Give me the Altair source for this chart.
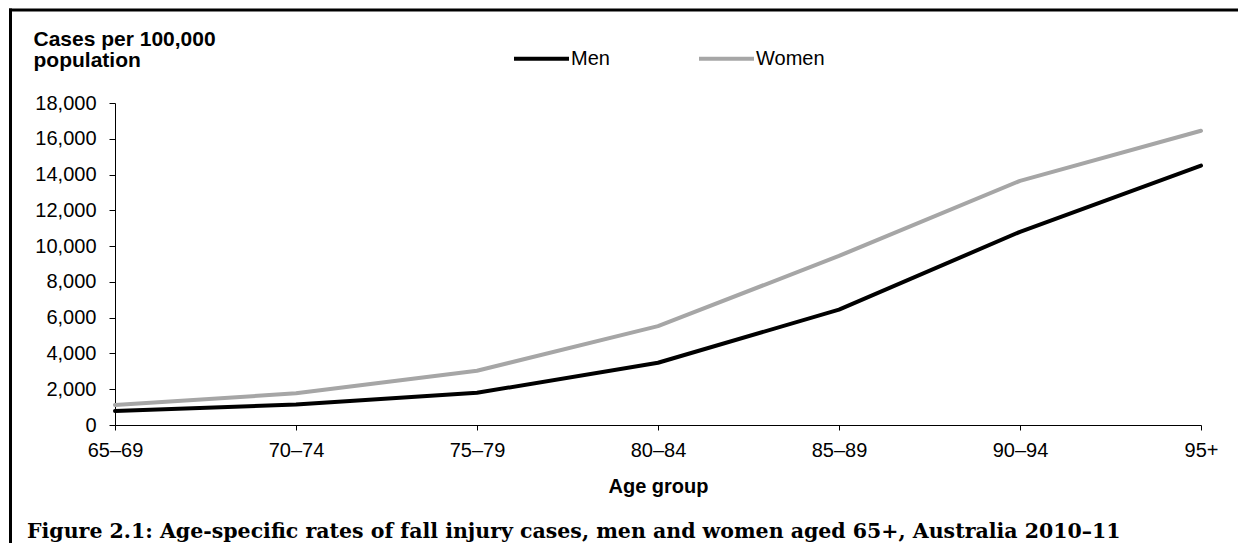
import altair as alt
import pandas as pd

age_groups = ["65–69", "70–74", "75–79", "80–84", "85–89", "90–94", "95+"]
men = [780, 1150, 1800, 3480, 6450, 10800, 14500]
women = [1120, 1770, 3030, 5530, 9450, 13650, 16450]
series = ["Men", "Women"]
y_ticks = [0, 2000, 4000, 6000, 8000, 10000, 12000, 14000, 16000, 18000]
caption = "Figure 2.1: Age-specific rates of fall injury cases, men and women aged 65+, Australia 2010–11"

rows = []
for a, m, w in zip(age_groups, men, women):
    rows.append({"age": a, "sex": "Men", "rate": m})
    rows.append({"age": a, "sex": "Women", "rate": w})
df = pd.DataFrame(rows)

W, H = 1086, 322
PAD_L, PAD_T = 107, 95

lines = alt.Chart(df).mark_line(strokeWidth=4, strokeCap="round", strokeJoin="round").encode(
    x=alt.X("age:O", sort=age_groups,
            scale=alt.Scale(type="point", padding=0),
            axis=alt.Axis(title="Age group", labelAngle=0, tickSize=5, labelPadding=10,
                          titleY=67, titleBaseline="alphabetic", titleFontSize=20,
                          titleFontWeight="bold", grid=False)),
    y=alt.Y("rate:Q", scale=alt.Scale(domain=[0, 18000], nice=False),
            axis=alt.Axis(values=y_ticks, format=",.0f", tickSize=6, labelPadding=13,
                          grid=False,
                          title=["Cases per 100,000", "population"],
                          titleAngle=0, titleAlign="left", titleBaseline="alphabetic",
                          titleX=-82, titleY=-58, titleFontSize=21, titleFontWeight="bold",
                          titleLineHeight=21)),
    color=alt.Color("sex:N", scale=alt.Scale(domain=series, range=["#000000", "#A6A6A6"]),
                    legend=alt.Legend(title=None, orient="none", legendX=397, legendY=-74,
                                      direction="horizontal", symbolType="stroke",
                                      symbolSize=3025, symbolStrokeWidth=4,
                                      labelFontSize=20, labelFont="Liberation Sans",
                                      labelColor="black", labelOffset=0,
                                      columnPadding=81, padding=0)),
)

frame = alt.Data(values=[{}])
left_border = alt.Chart(frame).mark_rule(color="black", strokeWidth=3).encode(
    x=alt.value(-104.5), y=alt.value(-94.5), y2=alt.value(H + 118)
)
top_border = alt.Chart(frame).mark_rule(color="black", strokeWidth=3).encode(
    x=alt.value(-106), x2=alt.value(W + 40), y=alt.value(-93)
)
caption_text = alt.Chart(alt.Data(values=[{"t": caption}])).mark_text(
    align="left", baseline="alphabetic", font="DejaVu Serif", fontSize=20.5,
    fontWeight="bold", color="black"
).encode(x=alt.value(-88), y=alt.value(435), text="t:N")

chart = alt.layer(lines, left_border, top_border, caption_text).properties(
    width=W, height=H,
    autosize=alt.AutoSizeParams(type="none"),
    padding={"left": PAD_L, "top": PAD_T, "right": 37, "bottom": 118},
    background="white",
).configure_view(stroke=None).configure_axis(
    grid=False, domainColor="black", tickColor="black", labelColor="black",
    titleColor="black", labelFont="Liberation Sans", titleFont="Liberation Sans",
    labelFontSize=20,
)

chart.save("out.html", embed_options={"renderer": "svg", "actions": False})
